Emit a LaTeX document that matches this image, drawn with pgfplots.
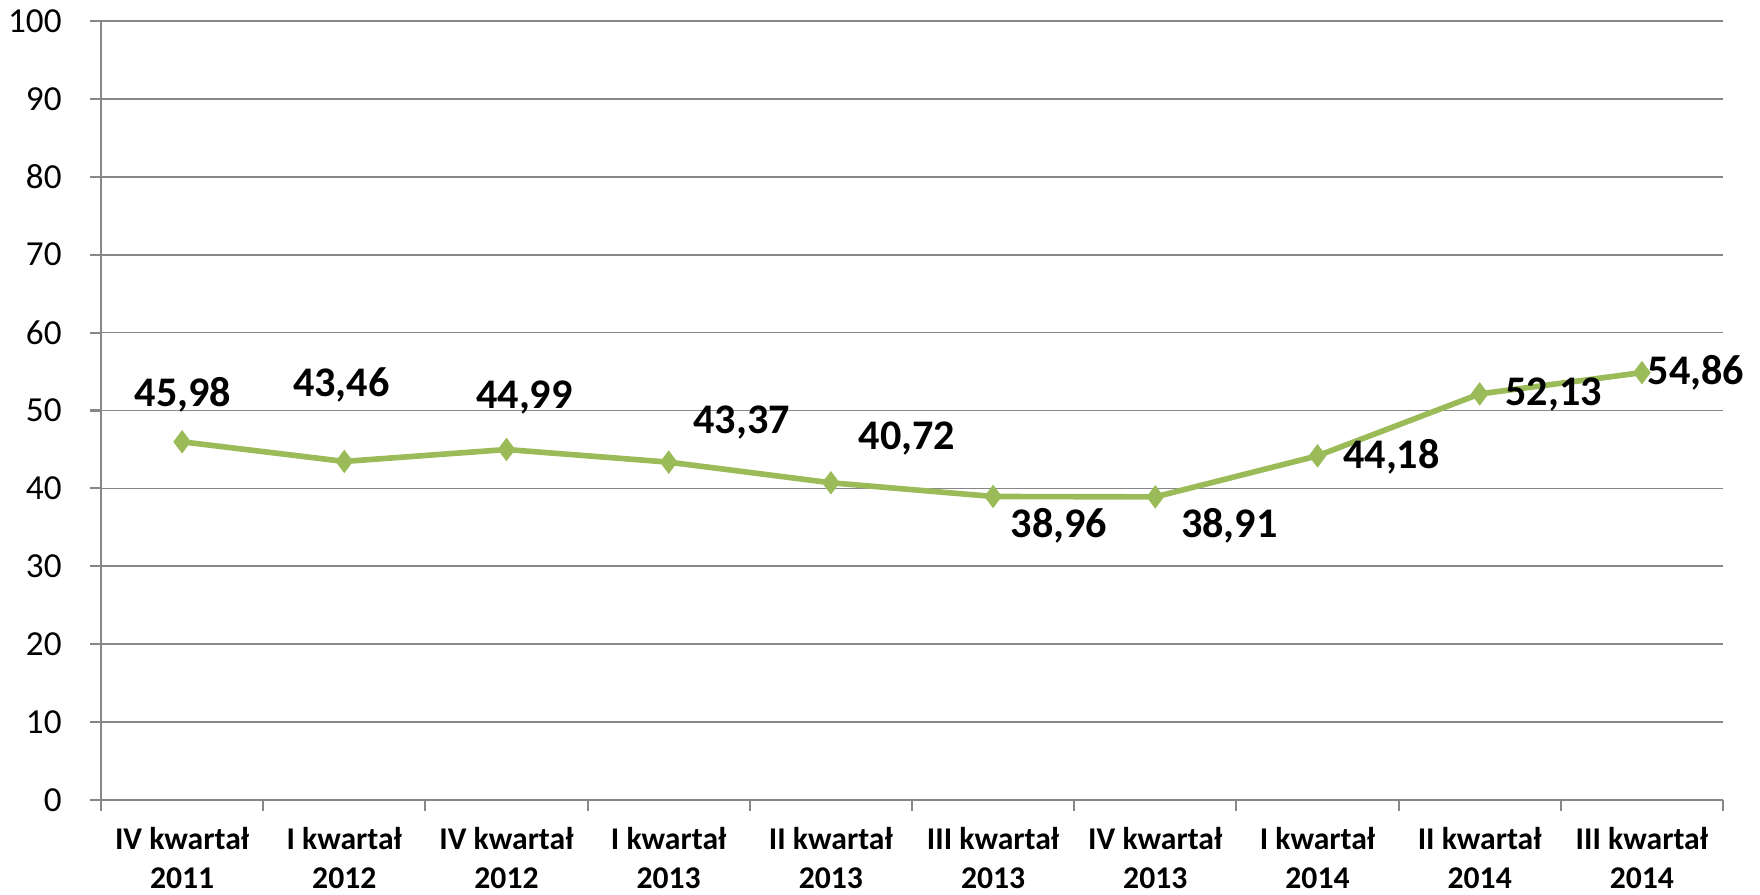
\documentclass[border=0pt]{standalone}
\usepackage{fontspec}
\setmainfont{Carlito}
\usepackage{pgfplots}
\usepackage{pgfplotstable}
\pgfplotsset{compat=1.18}
\definecolor{lineg}{HTML}{9BBB59}
\definecolor{gridg}{HTML}{878787}
\pgfplotstableread{
x y lab dx dy
0 45.98 45,98 0.1 4.7
1 43.46 43,46 -0.3 7.6
2 44.99 44,99 1.8 5.2
3 43.37 43,37 7.3 4.0
4 40.72 40,72 7.6 4.4
5 38.96 38,96 6.6 -2.9
6 38.91 38,91 7.4 -2.9
7 44.18 44,18 7.4 -0.1
8 52.13 52,13 7.4 -0.1
9 54.86 54,86 5.4 0.0
}\datatable
\begin{document}
\begin{tikzpicture}
\path[use as bounding box] (-10.1mm,-9.5mm) rectangle (165.9mm,80mm);
\begin{axis}[
  scale only axis, width=162.2mm, height=77.9mm,
  xmin=-0.5, xmax=9.5, ymin=0, ymax=100,
  ytick={0,10,...,100},
  xtick={-0.5,0.5,...,9.5},
  x tick label as interval,
  xticklabels={{IV kwartał\\2011},{I kwartał\\2012},{IV kwartał\\2012},{I kwartał\\2013},{II kwartał\\2013},{III kwartał\\2013},{IV kwartał\\2013},{I kwartał\\2014},{II kwartał\\2014},{III kwartał\\2014}},
  ymajorgrids, grid style={gridg, line width=0.5pt},
  axis x line*=bottom, axis y line*=left,
  axis line style={gridg, line width=0.6pt},
  tick style={gridg, line width=0.6pt},
  tick align=outside,
  major tick length=1.1mm,
  yticklabel style={font=\fontsize{10}{12}\selectfont, xshift=-1.6mm},
  xticklabel style={font=\fontsize{9}{11.2}\selectfont\bfseries, align=center, anchor=north, yshift=-0.4mm},
  /pgf/number format/assume math mode=true,
  clip=false,
]
\addplot[color=lineg, line width=1.6pt, mark=diamond*, mark size=3.1pt,
  mark options={fill=lineg, draw=lineg, line width=0.3pt},
  nodes near coords, point meta=explicit symbolic,
  visualization depends on={\thisrow{dx} \as \dx},
  visualization depends on={\thisrow{dy} \as \dy},
  every node near coord/.append style={anchor=center, xshift=\dx mm, yshift=\dy mm, black, font=\fontsize{12}{14}\selectfont\bfseries}
] table[x=x, y=y, meta=lab] {\datatable};
\end{axis}
\end{tikzpicture}
\end{document}
